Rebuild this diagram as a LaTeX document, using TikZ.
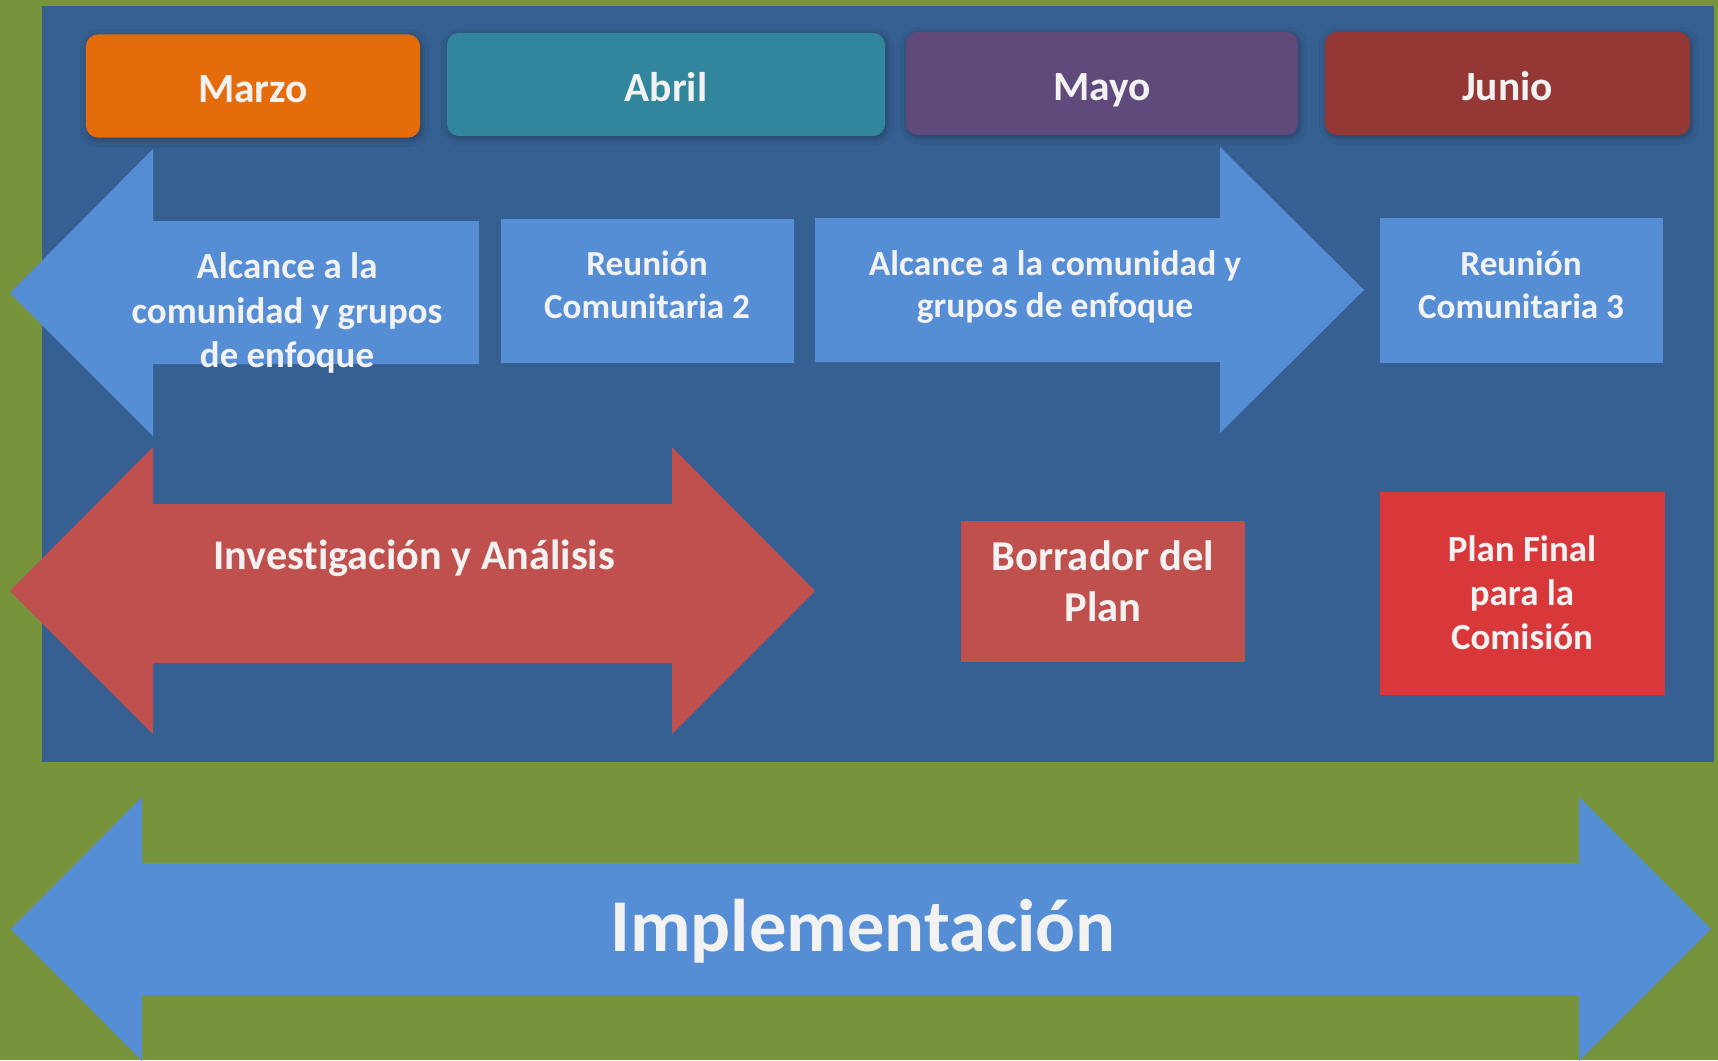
\documentclass[tikz,border=0pt]{standalone}
\usepackage{fontspec}
\setmainfont{Carlito}[Ligatures=NoCommon]
\usetikzlibrary{shadows.blur}

\definecolor{fondoverde}{HTML}{77933C}
\definecolor{panelazul}{HTML}{366092}
\definecolor{flechaazul}{HTML}{558ED5}
\definecolor{flecharoja}{HTML}{C0504D}
\definecolor{rojofinal}{HTML}{D9383A}
\definecolor{textoclaro}{HTML}{F2F2F2}
\definecolor{naranja}{HTML}{E46C0A}
\definecolor{turquesa}{HTML}{31859C}
\definecolor{morado}{HTML}{604A7B}
\definecolor{granate}{HTML}{953735}

\begin{document}
\begin{tikzpicture}[x=0.01cm, y=-0.01cm,
  mes/.style={rounded corners=0.12cm, minimum height=1.03cm, inner sep=0pt,
    text=textoclaro, font=\fontsize{11.8}{14}\selectfont\bfseries,
    text height=0.95em, text depth=0pt,
    blur shadow={shadow xshift=0.4pt, shadow yshift=-0.6pt, shadow blur radius=2pt, shadow opacity=35}},
  caja/.style={inner sep=0pt},
  texto/.style={text=textoclaro, align=center, inner sep=0pt}]

\useasboundingbox (0,0) rectangle (1718,1060);
\fill[fondoverde] (0,0) rectangle (1718,1060);
\fill[panelazul] (42,6) rectangle (1714,762);

\node[mes, fill=naranja, minimum width=3.34cm] (marzo) at (253,86) {Marzo};
\node[mes, fill=turquesa, minimum width=4.38cm] (abril) at (666,84.5) {Abril};
\node[mes, fill=morado, minimum width=3.92cm] (mayo) at (1102,83.5) {Mayo};
\node[mes, fill=granate, minimum width=3.65cm] (junio) at (1507.5,83.5) {Junio};

\fill[flechaazul] (10,293) -- (153,149) -- (153,221) -- (479,221) -- (479,364) -- (153,364) -- (153,436) -- cycle;
\fill[flechaazul] (815,218) -- (1220,218) -- (1220,147) -- (1364,290) -- (1220,433) -- (1220,362) -- (815,362) -- cycle;
\fill[flecharoja] (10,591) -- (153,447) -- (153,504) -- (672,504) -- (672,447) -- (815,591) -- (672,734) -- (672,663) -- (153,663) -- (153,734) -- cycle;
\fill[flechaazul] (11,929) -- (142,797) -- (142,863) -- (1579,863) -- (1579,797) -- (1711,929) -- (1579,1061) -- (1579,995) -- (142,995) -- (142,1061) -- cycle;

\node[caja, fill=flechaazul, minimum width=2.93cm, minimum height=1.44cm] (reunion2) at (647.5,291) {};
\node[caja, fill=flechaazul, minimum width=2.83cm, minimum height=1.45cm] (reunion3) at (1521.5,290.5) {};
\node[caja, fill=flecharoja, minimum width=2.84cm, minimum height=1.41cm] (borrador) at (1103,591.5) {};
\node[caja, fill=rojofinal, minimum width=2.85cm, minimum height=2.03cm] (planfinal) at (1522.5,593.5) {};

\node[texto, font=\fontsize{10.5}{12.7}\selectfont\bfseries] (alcance1) at (287,313) {Alcance a la\\comunidad y grupos\\de enfoque};
\node[texto, font=\fontsize{10}{12.2}\selectfont\bfseries] (reunion2txt) at (647,285) {Reunión\\Comunitaria 2};
\node[texto, font=\fontsize{10.1}{11.8}\selectfont\bfseries] (alcance2) at (1055,287) {Alcance a la comunidad y\\grupos de enfoque};
\node[texto, font=\fontsize{10}{12.2}\selectfont\bfseries] (reunion3txt) at (1521,285) {Reunión\\Comunitaria 3};

\node[texto, anchor=base, font=\fontsize{12}{14}\selectfont\bfseries] (investigacion) at (414,569) {Investigación y Análisis};
\node[texto, font=\fontsize{12.1}{14.5}\selectfont\bfseries] (borradortxt) at (1103,581) {Borrador del\\Plan};
\node[texto, font=\fontsize{10.5}{12.5}\selectfont\bfseries] (planfinaltxt) at (1522,593) {Plan Final\\para la\\Comisión};

\node[texto, anchor=base, font=\fontsize{21.2}{24}\selectfont\bfseries] (implementacion) at (863,951) {Implementación};

\end{tikzpicture}
\end{document}
